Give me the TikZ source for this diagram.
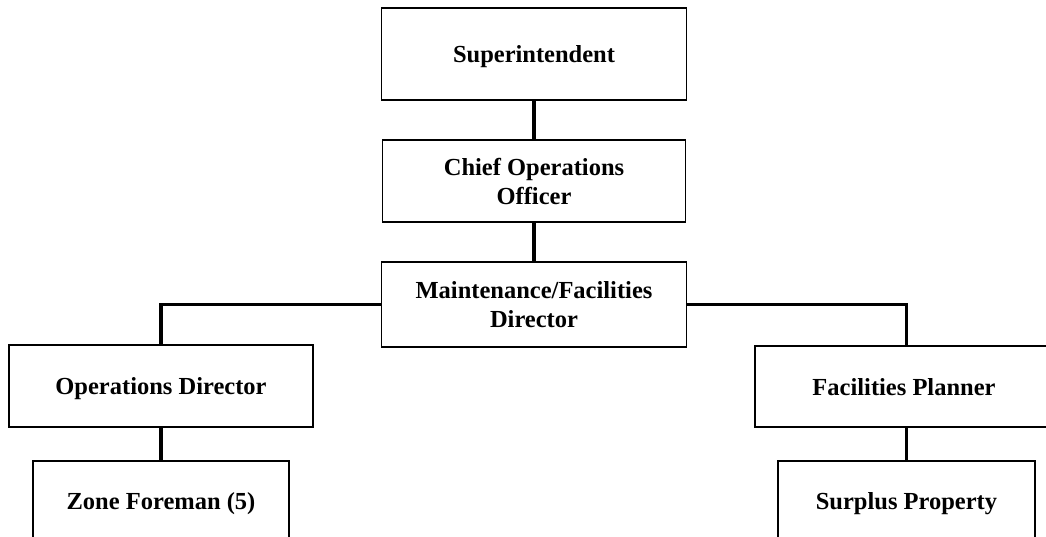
\documentclass[tikz,border=0pt]{standalone}
\usepackage{fontspec}
\setmainfont{Liberation Serif}
\begin{document}
\begin{tikzpicture}[x=1pt,y=-1pt,
  box/.style={draw=black,line width=1.2pt,fill=white,inner sep=0pt,
    align=center,font=\bfseries\fontsize{24.5}{29}\selectfont},
  oneline/.style={box,text depth=0pt},
  link/.style={line width=3.5pt}]
\useasboundingbox (0,0) rectangle (1046,536);
\begin{scope}
\clip (0,0) rectangle (1046,536);
% top chain
\node[oneline,minimum width=305,minimum height=92] (sup) at (534,54) {Superintendent};
\node[box,minimum width=303,minimum height=82] (coo) at (534,181) {Chief Operations\\Officer};
\node[box,minimum width=305,minimum height=85] (mfd) at (534,304.5) {Maintenance/Facilities\\Director};
% second level
\node[oneline,minimum width=304,minimum height=82] (opd) at (161,386) {Operations Director};
\node[oneline,minimum width=298,minimum height=81] (fpl) at (904,386.5) {Facilities Planner};
% third level (runs off the bottom edge)
\node[oneline,minimum width=256,minimum height=80] (zf) at (161,501) {Zone Foreman (5)};
\node[oneline,minimum width=257,minimum height=80] (sp) at (906.5,501) {Surplus Property};
% connectors
\draw[link] (sup.south) -- (coo.north);
\draw[link] (coo.south) -- (mfd.north);
\draw[link] (mfd.west) -| (opd.north);
\draw[link] (mfd.east) -| (sp.north |- fpl.north);
\draw[link] (opd.south) -- (zf.north);
\draw[link] (sp.north |- fpl.south) -- (sp.north);
\end{scope}
\end{tikzpicture}
\end{document}
